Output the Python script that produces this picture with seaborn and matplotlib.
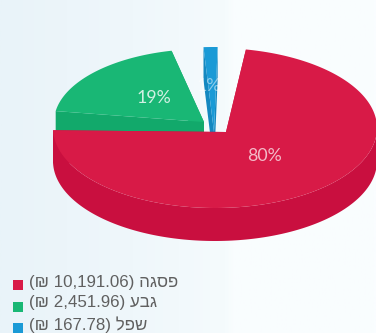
import numpy as np
import pandas as pd
import seaborn as sns
import matplotlib
matplotlib.use("Agg")
import matplotlib.pyplot as plt
from matplotlib.colors import LinearSegmentedColormap

names = ["פסגה", "גבע", "שפל"]
amounts = [10191.06, 2451.96, 167.78]
percent_labels = ["80%", "19%", "1%"]

TOP = ["#d81a47", "#19b775", "#1a9ad6"]
SIDE = ["#c90f3f", "#12a96b", "#1488c0"]
sns.set_theme(style="white")
plt.rcParams["font.family"] = ["Liberation Sans", "DejaVu Sans"]

W, H = 376, 333
fig = plt.figure(figsize=(W / 100, H / 100), dpi=100)
ax = fig.add_axes([0, 0, 1, 1])
ax.set_xlim(0, W)
ax.set_ylim(H, 0)
ax.axis("off")

cmap = LinearSegmentedColormap.from_list(
    "bg", [(0, "#e9f3f9"), (0.35, "#eff7fb"), (0.6, "#f5fbfd"), (0.62, "#f9fdfe"), (1, "#fafdff")])
grad = np.linspace(0, 1, 300).reshape(1, -1)
ax.imshow(grad, extent=(0, W, H, 0), cmap=cmap, aspect="auto", zorder=0)

total = sum(amounts)
sweeps = [a / total * 360 for a in amounts]
D = 33
# per slice: apex, ellipse centre, radii, start angle (clockwise from top), sweep trim
geom = {
    0: dict(apex=(226, 132), c=(215, 128), r=(162, 80), t0=11, trim=29),
    1: dict(apex=(204, 122), c=(204, 122), r=(150, 73), t0=-81.4, trim=0),
    2: dict(apex=(214, 132), c=(214, 132), r=(172, 85), t0=-3.5, trim=0),
}


def draw(i, z):
    g = geom[i]
    (ax0, ay0), (cx, cy), (a, b) = g["apex"], g["c"], g["r"]
    t0 = g["t0"]
    t1 = t0 + sweeps[i] - g["trim"]
    tt = np.radians(np.linspace(t0, t1, 200))
    x, y = cx + a * np.sin(tt), cy - b * np.cos(tt)
    vis = np.cos(tt) <= 0.02
    if vis.any():
        xv, yv = x[vis], y[vis]
        ax.fill(np.r_[xv, xv[::-1]], np.r_[yv, yv[::-1] + D], color=SIDE[i], lw=0, zorder=z)
    for k in (0, -1):
        ax.fill([ax0, x[k], x[k], ax0], [ay0, y[k], y[k] + D, ay0 + D], color=SIDE[i], lw=0, zorder=z)
    ax.fill(np.r_[ax0, x], np.r_[ay0, y], color=TOP[i], lw=0, zorder=z + 0.5)


draw(1, 2)
draw(2, 3)
draw(0, 4)

label_xy = [(265, 156), (154, 98), (209, 86)]
label_alpha = [0.7, 0.8, 0.5]
for (lx, ly), s, al in zip(label_xy, percent_labels, label_alpha):
    ax.text(lx, ly, s, color="white", alpha=al, ha="center", va="center",
            fontsize=12.8, family=["Lato", "DejaVu Sans"], zorder=6)

legend = pd.DataFrame({"name": names, "amount": amounts,
                       "mark_x": [18, 18, 18], "mark_y": [285, 307, 328], "text_y": [283, 303, 325]})
sns.scatterplot(data=legend, x="mark_x", y="mark_y", hue="name", palette=TOP[:3], marker="s",
                s=50, linewidth=0, legend=False, ax=ax, zorder=6)
for _, r in legend.iterrows():
    ax.text(29, r["text_y"], f"(₪ {r['amount']:,.2f}) {r['name'][::-1]}", color="#606060",
            fontsize=12.2, ha="left", va="center", zorder=6)
ax.set_xlim(0, W)
ax.set_ylim(H, 0)
ax.set_xlabel("")
ax.set_ylabel("")
fig.savefig("out.png", dpi=100)
